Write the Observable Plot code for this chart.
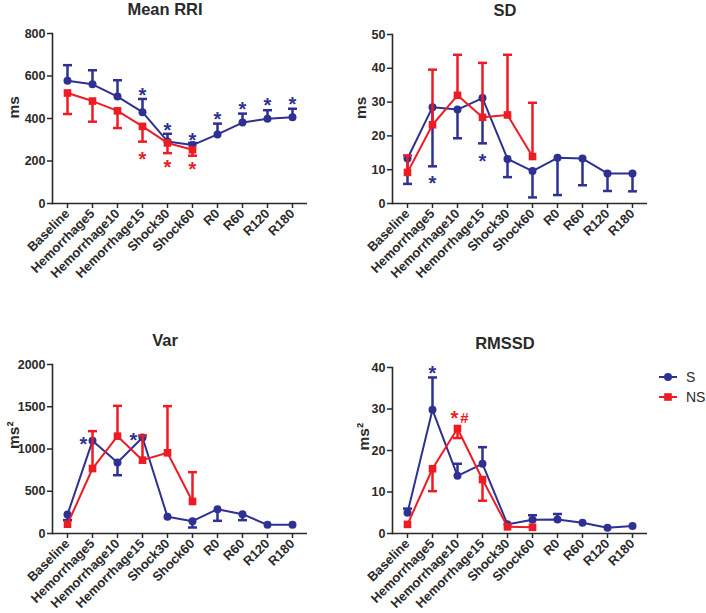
<!DOCTYPE html>
<html>
<head>
<meta charset="utf-8">
<script src="https://cdn.jsdelivr.net/npm/d3@7"></script>
<script src="https://cdn.jsdelivr.net/npm/@observablehq/plot@0.6"></script>
<style>
  body { margin: 0; background: #fff; }
  #wrap { position: relative; width: 706px; height: 613px; overflow: hidden; background: #fff; }
  #wrap > svg, #wrap > div { position: absolute; }
  #wrap text { font-family: 'Liberation Sans', Arial, Helvetica, sans-serif; }
</style>
</head>
<body>
<div id="wrap"></div>
<script>
// ---------- data ----------
const cats = ["Baseline","Hemorrhage5","Hemorrhage10","Hemorrhage15","Shock30","Shock60","R0","R60","R120","R180"];
const seriesNames = ["S", "NS"];

// Mean RRI (ms)
const rriS      = [578, 561, 503, 430, 292, 275, 325, 381, 399, 406];
const rriSErr   = [651, 627, 580, 492, 328, 285, 376, 423, 439, 446];
const rriNS     = [520, 482, 436, 363, 285, 253];
const rriNSErr  = [421, 385, 355, 291, 237, 225];
const rriTicks  = [0, 200, 400, 600, 800];
const rriStarsS  = [["Hemorrhage15",530],["Shock30",365],["Shock60",321],["R0",417],["R60",467],["R120",483],["R180",487]];
const rriStarsNS = [["Hemorrhage15",231],["Shock30",192],["Shock60",181]];

// SD (ms)
const sdS      = [13.3, 28.5, 27.8, 31.2, 13.2, 9.6, 13.5, 13.3, 8.9, 8.9];
const sdSErr   = [5.8, 11.0, 19.3, 17.8, 7.8, 1.8, 2.5, 5.4, 3.7, 3.6];
const sdNS     = [9.2, 23.3, 32.0, 25.5, 26.2, 13.9];
const sdNSErr  = [14.2, 39.6, 44.0, 41.6, 44.0, 29.8];
const sdTicks  = [0, 10, 20, 30, 40, 50];
const sdStarsS = [["Hemorrhage5",7.4],["Hemorrhage15",13.9]];

// Var (ms²)
const varS      = [225, 1097, 840, 1136, 197, 146, 288, 229, 103, 103];
const varSErr   = [158, null, 690, null, null, 71, 150, 158, null, null];
const varNS     = [110, 769, 1152, 868, 955, 379];
const varNSErr  = [null, 1211, 1511, 1160, 1507, 726];
const varTicks  = [0, 500, 1000, 1500, 2000];
const varStarsS = [["Hemorrhage5",1116],["Hemorrhage15",1156]];

// RMSSD (ms²)
const rmS      = [5.0, 29.8, 13.9, 16.8, 2.2, 3.3, 3.4, 2.6, 1.4, 1.8];
const rmSErr   = [6.0, 37.6, 16.8, 20.8, null, 4.4, 4.7, null, null, null];
const rmNS     = [2.2, 15.6, 25.3, 13.0, 1.6, 1.5];
const rmNSErr  = [null, 10.2, 23.0, 7.9, null, null];
const rmTicks  = [0, 10, 20, 30, 40];
const rmStarsS  = [["Hemorrhage5",39.7]];
const rmStarsNS = [["Hemorrhage10",28.9]];
const rmHashNS  = [["Hemorrhage10",27.9]];

// ---------- styling ----------
const BLUE = "#2e3192", RED = "#ed1c24", INK = "#2a2a2a";
const FONT = "'Liberation Sans', Arial, Helvetica, sans-serif";

const capSymbol = {
  draw(ctx, size) {
    const w = Math.sqrt(size / Math.PI);
    ctx.moveTo(-w, 0); ctx.lineTo(w, 0);
  }
};

function rows(vals, errs) {
  return vals.map((v, i) => ({cat: cats[i], v, e: errs[i]}));
}
function starRows(arr) { return arr.map(([cat, v]) => ({cat, v})); }

function seriesMarks(data, color, symbol) {
  const withErr = data.filter(d => d.e != null);
  return [
    Plot.ruleX(withErr, {x: "cat", y1: "v", y2: "e", stroke: color, strokeWidth: 2.5}),
    Plot.dot(withErr, {x: "cat", y: "e", symbol: capSymbol, r: 4.5, stroke: color, strokeWidth: 2.5, fill: "none"}),
    Plot.line(data, {x: "cat", y: "v", stroke: color, strokeWidth: 2}),
    Plot.dot(data, {x: "cat", y: "v", symbol, r: symbol === "square" ? 4.3 : 4, fill: color, stroke: "none"})
  ];
}

function panel(o) {
  const S = rows(o.S, o.Se), NS = rows(o.NS, o.NSe);
  const marks = [
    Plot.ruleY([0], {stroke: INK, strokeWidth: 1.6}),
    Plot.frame({anchor: "left", stroke: INK, strokeWidth: 1.6}),
    Plot.axisY({ticks: o.ticks, tickFormat: d => String(d), tickSize: 5, tickPadding: 2, label: null, strokeWidth: 1.5, fontSize: 12.5}),
    Plot.axisX({tickRotate: -45, tickSize: 5, tickPadding: 3, label: null, strokeWidth: 1.5, fontSize: 13}),
    ...seriesMarks(S, BLUE, "circle"),
    ...seriesMarks(NS, RED, "square"),
    Plot.text([o.title], {text: d => d, frameAnchor: "top", lineAnchor: "bottom", dy: -19, dx: -15, fontSize: 16.5, fontWeight: "bold"}),
    Plot.text([o.ylabel], {text: d => d, frameAnchor: "left", rotate: -90, lineAnchor: "bottom", dx: o.ylabDx, fontSize: 15.5, fontWeight: "bold"})
  ];
  if (o.starsS) marks.push(Plot.text(starRows(o.starsS), {x: "cat", y: "v", text: () => "*", fill: BLUE, fontSize: 20, fontWeight: "bold", dy: 5, dx: o.starDx || 0}));
  if (o.starsNS) marks.push(Plot.text(starRows(o.starsNS), {x: "cat", y: "v", text: () => "*", fill: RED, fontSize: 20, fontWeight: "bold", dy: 5, dx: o.starNSDx || 0}));
  if (o.hashNS) marks.push(Plot.text(starRows(o.hashNS), {x: "cat", y: "v", text: () => "#", fill: RED, fontSize: 15, fontWeight: "bold", dx: 7}));
  const svg = Plot.plot({
    width: o.w, height: o.h,
    marginLeft: o.ml, marginRight: o.mr, marginTop: o.mt, marginBottom: o.mb,
    x: {type: "point", domain: cats, padding: 0.5, axis: null},
    y: {domain: [0, o.ticks[o.ticks.length - 1]], axis: null},
    style: {fontFamily: FONT, fontSize: "12.5px", fontWeight: "bold", color: INK, background: "transparent", overflow: "visible"},
    marks
  });
  svg.style.left = o.left + "px";
  svg.style.top = o.top + "px";
  return svg;
}

const wrap = document.getElementById("wrap");
wrap.appendChild(panel({title: "Mean RRI", ylabel: "ms", ylabDx: -34, S: rriS, Se: rriSErr, NS: rriNS, NSe: rriNSErr, ticks: rriTicks,
  starsS: rriStarsS, starsNS: rriStarsNS, left: 0, top: 0, w: 330, h: 310, ml: 52, mr: 23, mt: 33, mb: 107}));
wrap.appendChild(panel({title: "SD", ylabel: "ms", ylabDx: -27, S: sdS, Se: sdSErr, NS: sdNS, NSe: sdNSErr, ticks: sdTicks,
  starsS: sdStarsS, left: 330, top: 0, w: 376, h: 310, ml: 62, mr: 59, mt: 34, mb: 107}));
wrap.appendChild(panel({title: "Var", ylabel: "ms²", ylabDx: -34, S: varS, Se: varSErr, NS: varNS, NSe: varNSErr, ticks: varTicks,
  starsS: varStarsS, starDx: -9, left: 0, top: 320, w: 330, h: 293, ml: 52, mr: 23, mt: 44, mb: 80}));
wrap.appendChild(panel({title: "RMSSD", ylabel: "ms²", ylabDx: -24, S: rmS, Se: rmSErr, NS: rmNS, NSe: rmNSErr, ticks: rmTicks,
  starsS: rmStarsS, starsNS: rmStarsNS, starNSDx: -3, hashNS: rmHashNS, left: 330, top: 320, w: 376, h: 293, ml: 62, mr: 59, mt: 47, mb: 80}));

// ---------- legend ----------
const leg = d3.select(wrap).append("svg")
  .attr("width", 66).attr("height", 50)
  .style("left", "640px").style("top", "360px");
const legColors = [BLUE, RED];
seriesNames.forEach((name, i) => {
  const g = leg.append("g").attr("transform", `translate(0,${17 + i * 20})`);
  g.append("line").attr("x1", 19).attr("x2", 37).attr("stroke", legColors[i]).attr("stroke-width", 2);
  if (i === 0) g.append("circle").attr("cx", 28).attr("r", 4).attr("fill", legColors[i]);
  else g.append("rect").attr("x", 24.2).attr("y", -3.8).attr("width", 7.6).attr("height", 7.6).attr("fill", legColors[i]);
  g.append("text").attr("x", 46).attr("y", 5).text(name)
    .attr("font-family", FONT).attr("font-size", 14).attr("fill", INK);
});
</script>
</body>
</html>
